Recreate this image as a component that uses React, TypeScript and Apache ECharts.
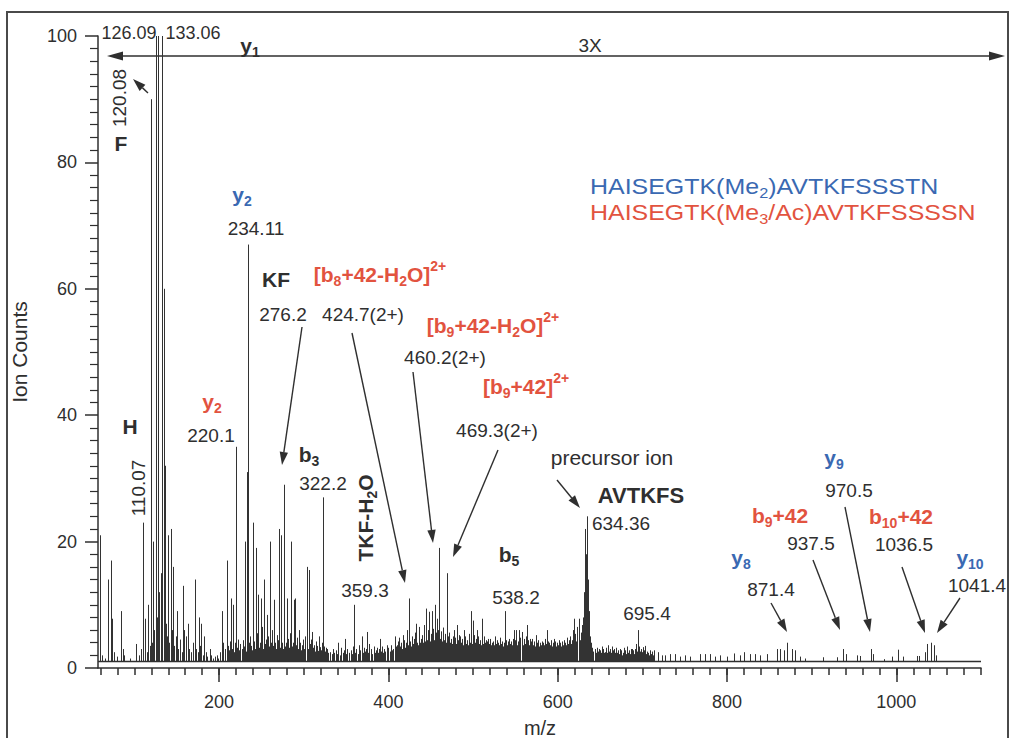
import React, { useEffect, useRef } from 'react';
import * as echarts from 'echarts';

// ---------- data (m/z, ion counts) ----------
const X_MIN = 57;
const X_MAX = 1100;
const BASE = 1.1;
const majorXTicks = [200, 400, 600, 800, 1000];
const yTicks = [0, 20, 40, 60, 80, 100];

const mainPeaks: [number, number][] = [
  [59.4, 21], [69, 14], [72, 17], [74, 7.8], [84, 9], [86, 3], [102, 3.8], [110.07, 23], [112, 7.8], [116, 10],
  [120.08, 90], [122, 20], [126.09, 100], [128.1, 100], [133.06, 100], [134.5, 60], [136, 32], [137.5, 7],
  [140, 21], [143, 22], [146, 16], [150, 9], [157, 13], [159, 6], [163, 7], [171, 14], [176, 8], [179, 7],
  [182, 5], [189, 3], [197, 2], [203, 9], [209, 17], [214, 11], [216, 10], [220.1, 35], [231, 20], [233, 31],
  [234.11, 67], [240.5, 23], [243.7, 19], [246.5, 11.6], [249.6, 11], [253.5, 14], [256.4, 8.4], [260, 20],
  [265, 10.8], [271, 22], [273, 21], [276.2, 29], [280, 11], [285, 20], [288.6, 10.8], [290, 11], [303.6, 16],
  [306.7, 15.5], [310, 5.7], [318.5, 5], [322.2, 27], [340, 4], [349, 4.6], [359.3, 10], [368.6, 5], [374.5, 5.7],
  [390, 4.6], [408, 5], [424.7, 11], [433, 7], [445, 9.4], [448.5, 8.9], [451, 9], [455, 10], [457, 7.8],
  [460.2, 19], [465, 5], [469.3, 15], [477, 6], [481, 6.8], [485, 5], [489, 6], [497, 9], [500, 7.5], [504.5, 6],
  [510.4, 7.8], [518, 4.6], [538.2, 9], [548, 6], [551, 6], [554, 6], [557.7, 5.7], [564, 6.8], [567.5, 4.6],
  [574.6, 5.2], [587, 6], [596, 4.6], [619.5, 7.8], [624.6, 7.8], [632.5, 22], [634.36, 24], [635.5, 14],
  [636.5, 9], [640, 3], [650, 2.8], [656, 2.5], [665, 2.8], [676, 2], [687.7, 3], [695.4, 6], [701, 3.3],
];

const highMassPeaks: [number, number][] = [
  [699.5, 2.5], [703.4, 3.5], [709.3, 2.8], [713.2, 2.8], [719, 2.5], [723, 2], [727, 2], [733, 2.2], [739, 2.2],
  [745, 1.8], [750.7, 2], [756.6, 1.8], [768.4, 2.2], [774.3, 2.2], [780.2, 2.2], [786, 1.8], [792, 2], [800, 1.8],
  [807.7, 2.3], [815.6, 2], [819.5, 2.5], [827.5, 2.2], [833.4, 2.2], [839.3, 2], [847.2, 2.2], [859, 3], [863, 3],
  [867, 2.8], [871.4, 4], [876.7, 3], [880.6, 2.8], [886.5, 1.8], [892.5, 1.5], [913, 1.7], [930, 1.7], [937.5, 3],
  [940, 2.2], [954, 2], [957, 1.9], [970.5, 3], [972, 2.2], [986, 1.4], [995, 1.8], [1002.5, 2.9], [1008, 1.8],
  [1024, 1.9], [1027, 1.9], [1034, 2.5], [1036.5, 3.8], [1041.4, 4], [1044.5, 3.6], [1047, 2],
];

const grassLow: [number, number][] = [
  [62, 2], [65, 1.5], [76, 2.5], [80, 1.8], [88, 2], [95, 1.5], [105, 2], [108, 3], [113, 4], [115, 2.5], [118, 3.5],
  [121, 4], [123, 6], [125, 5], [127, 8], [129, 12], [131, 10], [132, 15], [138, 5], [141, 4], [144, 6], [147, 3.5],
  [149, 5], [152, 3], [154, 4.5], [156, 2.5], [158, 3], [161, 5], [165, 3], [167, 2.5], [169, 4], [173, 3], [175, 2.5],
  [178, 3.5], [181, 2], [184, 2.5], [186, 1.8], [191, 2], [193, 1.5], [195, 1.8], [199, 1.5], [201, 2.5], [205, 4], [207, 3],
];

const grass210: [number, number][] = [
  [210, 3.5], [212, 2.8], [213, 4.2], [215, 3], [217, 3.6], [218, 2.5], [219, 4], [221, 3.2], [222, 4.5], [224, 2.8],
  [225, 3.8], [227, 3], [228, 4.4], [230, 3.4], [232, 2.6], [235, 4], [236, 3], [237, 5], [238, 3.5], [239, 2.8],
  [241, 4.2], [242, 3], [244, 3.6], [245, 5.5], [247, 3.2], [248, 4], [250, 3.4], [251, 6.5], [252, 3], [254, 3.8],
  [255, 4.5], [257, 3], [258, 5], [259, 3.4], [261, 4], [262, 3], [263, 6], [264, 3.5], [266, 4], [267, 3], [268, 5.2],
  [269, 3.6], [270, 4.4], [272, 3.2], [274, 4], [275, 3], [277, 5], [278, 3.4], [279, 4], [281, 3], [282, 4.6],
  [283, 3.2], [284, 5.5], [286, 3.4], [287, 4], [289, 3], [291, 3.6], [292, 4.8], [293, 3], [294, 6], [295, 3.4],
  [296, 4], [297, 2.8], [298, 3.6], [299, 4.5], [300, 3], [301, 5], [302, 3.2], [304, 4], [305, 3], [307, 3.8],
  [308, 2.8], [309, 4.5], [311, 3.2], [312, 3.6], [313, 2.6], [314, 4.2], [315, 3], [316, 3.5], [317, 2.7], [319, 3.3],
  [320, 2.8], [321, 4], [323, 3], [324, 3.4], [325, 2.6], [326, 3.2], [327, 2.5], [328, 3], [329, 2.4],
];

const grass330: [number, number][] = [
  [331, 2.5], [333, 2.2], [334, 3], [336, 2.4], [338, 2.8], [339, 2.2], [341, 2.6], [343, 2], [344, 3.2], [346, 2.4],
  [347, 2.8], [350, 2.2], [351, 3], [353, 2.4], [354, 2], [356, 2.8], [357, 2.2], [358, 3.4], [361, 2.4], [362, 3],
  [364, 2.2], [365, 3.6], [366, 2.5], [367, 2.8], [370, 2.4], [371, 3.2], [372, 2.6], [373, 3], [376, 2.4], [377, 3.8],
  [379, 2.6], [380, 3], [381, 2.2], [383, 3.4], [384, 2.4], [385, 2.8], [387, 3.2], [388, 2.4], [389, 3], [391, 2.6],
  [392, 3.4], [394, 2.4], [395, 3], [396, 2.6], [398, 3.6], [399, 2.8], [400, 3.2], [402, 2.6], [403, 3.6], [404, 2.8],
  [405, 3], [406, 2.6], [409, 3.4],
];

const grass410: [number, number][] = [
  [410, 3.6], [411, 4.2], [412, 3], [413, 4.8], [414, 3.4], [415, 4], [416, 3], [417, 5.2], [418, 3.6], [419, 4.4],
  [420, 3.2], [421, 4], [422, 6], [423, 3.6], [426, 4.2], [427, 3.4], [428, 5], [429, 3.8], [430, 4.6], [431, 3.4],
  [432, 5.6], [434, 4], [435, 3.6], [436, 6.5], [437, 4], [438, 4.6], [439, 3.6], [440, 5.2], [441, 4], [442, 6.8],
  [443, 4.2], [444, 5], [446, 4.4], [447, 6], [449, 4.2], [450, 5.4], [452, 4.6], [453, 6.2], [454, 4.4], [456, 5.6],
  [458, 4.6], [459, 6], [461, 4.6], [462, 5.8], [463, 4.2], [464, 6.4], [466, 4.4], [467, 5.4], [468, 4], [470, 5],
  [471, 4.2], [472, 5.6], [473, 4], [474, 4.6], [475, 3.8], [476, 5], [478, 4.2], [479, 4.8], [480, 3.8], [482, 4.4],
  [483, 3.6], [484, 5.2], [486, 4], [487, 4.6], [488, 3.6], [490, 4.2], [491, 5], [492, 3.8], [493, 4.4], [494, 3.6],
  [495, 5.4], [496, 4], [498, 4.8], [499, 3.8], [501, 5.2], [502, 4], [503, 4.6], [505, 4], [506, 5], [507, 3.8],
  [508, 4.4], [509, 3.6], [511, 4.6], [512, 3.8], [513, 5], [514, 4], [515, 4.4], [516, 3.6], [517, 4.2], [519, 3.8],
  [520, 4.6], [521, 3.6], [522, 4], [523, 3.4], [524, 4.2], [525, 3.6], [526, 5], [527, 3.8], [528, 4.4], [529, 3.4],
  [530, 4], [531, 3.6], [532, 4.8], [533, 3.8], [534, 4.2], [535, 3.4], [536, 4], [537, 3.6], [539, 4.4], [540, 3.6],
  [541, 4.2], [542, 3.4], [543, 4.6], [544, 3.8], [545, 4.2], [546, 3.6], [547, 4.6], [549, 3.8], [550, 4.4], [552, 3.6],
  [553, 4.2], [555, 4.8], [556, 3.8], [558, 4.2], [559, 3.6], [560, 4.6], [561, 3.8], [562, 5], [563, 4], [565, 4.4],
  [566, 3.6], [568, 4.2], [569, 3.8], [570, 4.6], [571, 3.6], [572, 4.2], [573, 3.4], [575, 4], [576, 3.6], [577, 4.4],
  [578, 3.4], [579, 4], [580, 3.6], [581, 4.2], [582, 3.4], [583, 4], [584, 3.6], [585, 4.6], [586, 3.8], [588, 4.2],
  [589, 3.4], [590, 4], [591, 3.6], [592, 4.4], [593, 3.4], [594, 4], [595, 3.6], [597, 4.2], [598, 3.4], [599, 4],
  [600, 3.6], [601, 4.4], [602, 3.4], [603, 4], [604, 3.4], [605, 4.2], [606, 3.6], [607, 4.4], [608, 3.4], [609, 4],
  [610, 3.6], [611, 4.8], [612, 3.8], [613, 4.4], [614, 3.6], [615, 5], [616, 3.8], [617, 4.4], [618, 6], [620, 4.4],
  [621, 5.4], [622, 4.2], [623, 6.5], [625, 5], [626, 4.4], [627, 5.6], [628, 4.6], [629, 6.8], [630, 8], [631, 12],
  [633.5, 18], [637, 8], [638, 5], [639, 4], [641, 3.2],
];

const grass640: [number, number][] = [
  [642, 2.6], [644, 3], [645, 2.4], [647, 3.2], [648, 2.6], [649, 3], [651, 2.4], [652, 3.4], [653, 2.6], [654, 3],
  [655, 2.4], [657, 3.2], [658, 2.4], [659, 2.8], [660, 3.6], [661, 2.6], [662, 3], [663, 2.4], [664, 3.4], [666, 2.6],
  [667, 3], [668, 2.4], [669, 3.2], [670, 2.4], [671, 2.8], [672, 2.2], [673, 3], [674, 2.4], [675, 2.8], [677, 2.4],
  [678, 3.2], [679, 2.4], [680, 2.8], [681, 2.2], [682, 3.4], [683, 2.4], [684, 2.8], [685, 2.2], [686, 3], [688, 2.4],
  [689, 2.8], [690, 2.2], [691, 3], [692, 2.4], [693, 3.8], [694, 2.6], [696, 3.4], [697, 2.6], [698, 3], [700, 2.4],
  [702, 2.8], [704, 2.2], [705, 2.6], [706, 2.2], [707, 2.4], [708, 2], [710, 2.2], [711, 2.6], [712, 2],
];

// ---------- styling ----------
const FONT = '"Liberation Sans", Arial, Helvetica, sans-serif';
const INK = '#2f2f2f';
const RED = '#e2533f';
const BLUE = '#3a69b2';
const NUM = 19;
const BOLD = 21;

// rich-text styles: m = main, s = subscript, p = superscript.
function styleSet(color: string, size: number, weight: string, L: number) {
  const sub = Math.round(size * 0.66);
  const base = { fill: color, color, fontFamily: FONT, fontWeight: weight };
  const subH = Math.max(2, L - 0.66 * size);
  const supH = Math.max(2, L - 0.76 * size);
  return {
    m: { ...base, fontSize: size, lineHeight: L, verticalAlign: 'middle' },
    s: { ...base, fontSize: sub, height: subH, lineHeight: subH, verticalAlign: 'bottom' },
    p: { ...base, fontSize: sub, height: supH, lineHeight: supH, verticalAlign: 'top' },
  };
}

function richSet(color: string, size: number, weight: string, L: number) {
  const main = styleSet(color, size, weight, L);
  const b = styleSet(BLUE, size, weight, L);
  const r = styleSet(RED, size, weight, L);
  return { ...main, mb: b.m, sb: b.s, mr: r.m, sr: r.s };
}

type Ann = {
  x: number; y: number; t: string; c?: string; size?: number; w?: string;
  rot?: number; align?: string; lh?: number; sx?: number;
};

const annotations: Ann[] = [
  { x: 129, y: 33, t: '{m|126.09}', size: 18, w: 'normal' },
  { x: 193, y: 33, t: '{m|133.06}', size: 18, w: 'normal' },
  { x: 250, y: 45, t: '{m|y}{s|1}', size: BOLD },
  { x: 590, y: 45, t: '{m|3X}', size: NUM, w: 'normal' },
  { x: 119, y: 98, t: '{m|120.08}', size: NUM, w: 'normal', rot: Math.PI / 2 },
  { x: 121, y: 143, t: '{m|F}', size: BOLD },
  { x: 130, y: 426, t: '{m|H}', size: BOLD },
  { x: 138, y: 488, t: '{m|110.07}', size: NUM, w: 'normal', rot: Math.PI / 2 },
  { x: 212, y: 401, t: '{m|y}{s|2}', size: BOLD, c: RED },
  { x: 211, y: 435, t: '{m|220.1}', size: NUM, w: 'normal' },
  { x: 242, y: 194, t: '{m|y}{s|2}', size: BOLD, c: BLUE },
  { x: 256, y: 228, t: '{m|234.11}', size: NUM, w: 'normal' },
  { x: 276, y: 279, t: '{m|KF}', size: BOLD },
  { x: 283, y: 314, t: '{m|276.2}', size: NUM, w: 'normal' },
  { x: 380, y: 274, t: '{m|[b}{s|8}{m|+42-H}{s|2}{m|O]}{p|2+}', size: BOLD, c: RED },
  { x: 363, y: 314, t: '{m|424.7(2+)}', size: NUM, w: 'normal' },
  { x: 493, y: 325, t: '{m|[b}{s|9}{m|+42-H}{s|2}{m|O]}{p|2+}', size: BOLD, c: RED },
  { x: 445, y: 357, t: '{m|460.2(2+)}', size: NUM, w: 'normal' },
  { x: 526, y: 386, t: '{m|[b}{s|9}{m|+42]}{p|2+}', size: BOLD, c: RED },
  { x: 497, y: 430, t: '{m|469.3(2+)}', size: NUM, w: 'normal' },
  { x: 309, y: 454, t: '{m|b}{s|3}', size: BOLD },
  { x: 323, y: 483, t: '{m|322.2}', size: NUM, w: 'normal' },
  { x: 365, y: 518, t: '{m|TKF-H}{s|2}{m|O}', size: BOLD, rot: Math.PI / 2 },
  { x: 365, y: 590, t: '{m|359.3}', size: NUM, w: 'normal' },
  { x: 509, y: 554, t: '{m|b}{s|5}', size: BOLD },
  { x: 516, y: 597, t: '{m|538.2}', size: NUM, w: 'normal' },
  { x: 612, y: 457, t: '{m|precursor ion}', size: 21, w: 'normal' },
  { x: 641, y: 495, t: '{m|AVTKFS}', size: 22 },
  { x: 621, y: 523, t: '{m|634.36}', size: NUM, w: 'normal' },
  { x: 647, y: 613, t: '{m|695.4}', size: NUM, w: 'normal' },
  { x: 741, y: 557, t: '{m|y}{s|8}', size: BOLD, c: BLUE },
  { x: 771, y: 589, t: '{m|871.4}', size: NUM, w: 'normal' },
  { x: 780, y: 515, t: '{m|b}{s|9}{m|+42}', size: BOLD, c: RED },
  { x: 811, y: 543, t: '{m|937.5}', size: NUM, w: 'normal' },
  { x: 834, y: 457, t: '{m|y}{s|9}', size: BOLD, c: BLUE },
  { x: 849, y: 490, t: '{m|970.5}', size: NUM, w: 'normal' },
  { x: 901, y: 516, t: '{m|b}{s|10}{m|+42}', size: BOLD, c: RED },
  { x: 904, y: 544, t: '{m|1036.5}', size: NUM, w: 'normal' },
  { x: 970, y: 557, t: '{m|y}{s|10}', size: BOLD, c: BLUE },
  { x: 977, y: 585, t: '{m|1041.4}', size: NUM, w: 'normal' },
  {
    x: 590, y: 198.5,
    t: '{mb|HAISEGTK(Me}{sb|2}{mb|)AVTKFSSSTN}\n{mr|HAISEGTK(Me}{sr|3}{mr|/Ac)AVTKFSSSSN}',
    size: 23, w: 'normal', c: BLUE, align: 'left', lh: 26, sx: 1.085,
  },
];

const arrows: [number, number, number, number][] = [
  [148, 93, 133, 79],
  [302, 327, 282, 465],
  [352, 333, 405, 583],
  [413, 372, 433, 543],
  [498, 450, 453, 557],
  [557, 480, 580, 508],
  [771, 603, 787, 632],
  [813, 560, 840, 630],
  [845, 507, 870, 632],
  [902, 567, 925, 633],
  [960, 598, 937, 633],
];

function arrowHead(x1: number, y1: number, x2: number, y2: number, len = 13, half = 4.2) {
  const dx = x2 - x1, dy = y2 - y1;
  const d = Math.hypot(dx, dy);
  const ux = dx / d, uy = dy / d;
  const bx = x2 - ux * len, by = y2 - uy * len;
  return {
    base: [bx, by],
    poly: {
      type: 'polygon',
      silent: true,
      shape: { points: [[x2, y2], [bx - uy * half, by + ux * half], [bx + uy * half, by - ux * half]] },
      style: { fill: INK },
    },
  };
}

function buildGraphic() {
  const els: any[] = [];
  els.push({
    type: 'rect', silent: true,
    shape: { x: 7, y: 12, width: 1001, height: 800 },
    style: { fill: 'none', stroke: '#4a4a4a', lineWidth: 2 },
  });
  const L = arrowHead(1005, 56, 107, 56, 16, 4.5);
  const R = arrowHead(107, 56, 1005, 56, 16, 4.5);
  els.push({ type: 'line', silent: true, shape: { x1: L.base[0], y1: 56, x2: R.base[0], y2: 56 }, style: { stroke: INK, lineWidth: 1.5 } });
  els.push(L.poly, R.poly);
  arrows.forEach(([x1, y1, x2, y2]) => {
    const h = arrowHead(x1, y1, x2, y2);
    els.push({ type: 'line', silent: true, shape: { x1, y1, x2: h.base[0], y2: h.base[1] }, style: { stroke: INK, lineWidth: 1.4 } });
    els.push(h.poly);
  });
  annotations.forEach((a) => {
    const color = a.c || INK;
    const size = a.size || NUM;
    const w = a.w || 'bold';
    const lh = a.lh || size + 2;
    els.push({
      type: 'text', silent: true,
      x: a.x, y: a.y, rotation: a.rot || 0, scaleX: a.sx || 1,
      style: {
        text: a.t,
        rich: richSet(color, size, w, lh),
        fontFamily: FONT, fontSize: size, fontWeight: w, fill: color,
        align: a.align || 'center', textAlign: a.align || 'center',
        verticalAlign: 'middle', textVerticalAlign: 'middle',
      },
    });
  });
  els.push({
    type: 'text', silent: true, x: 540, y: 728,
    style: { text: 'm/z', fontFamily: FONT, fontSize: 20, fill: INK, align: 'center', textAlign: 'center', verticalAlign: 'middle', textVerticalAlign: 'middle' },
  });
  return els;
}

export default function App() {
  const ref = useRef<HTMLDivElement>(null);
  useEffect(() => {
    if (!ref.current) return;
    const chart = echarts.init(ref.current, null, { renderer: 'svg' });
    const minorXTicks: number[] = [];
    for (let v = 60; v <= X_MAX; v += 20) minorXTicks.push(v);
    const allPeaks = [...grassLow, ...grass210, ...grass330, ...grass410, ...grass640, ...mainPeaks, ...highMassPeaks];
    const axisLineStyle = { color: INK, width: 1.5 };
    chart.setOption({
      animation: false,
      backgroundColor: '#ffffff',
      grid: { left: 98, right: 34, top: 36, bottom: 70, containLabel: false },
      xAxis: [
        {
          type: 'value', min: X_MIN, max: X_MAX,
          axisLine: { lineStyle: axisLineStyle },
          axisTick: { customValues: majorXTicks, length: 14, lineStyle: axisLineStyle },
          axisLabel: { customValues: majorXTicks, margin: 25, fontSize: 18, color: INK, fontFamily: FONT, formatter: (v: number) => String(v) },
          splitLine: { show: false },
        },
        {
          type: 'value', min: X_MIN, max: X_MAX, position: 'bottom',
          axisLine: { show: false },
          axisTick: { customValues: minorXTicks, length: 7, lineStyle: axisLineStyle },
          axisLabel: { show: false },
          splitLine: { show: false },
        },
      ],
      yAxis: {
        type: 'value', min: 0, max: 100, interval: 20,
        name: 'Ion Counts', nameLocation: 'middle', nameGap: 68,
        nameTextStyle: { fontSize: 21, color: INK, fontFamily: FONT },
        axisLine: { show: true, lineStyle: axisLineStyle },
        axisTick: { show: true, length: 13, lineStyle: axisLineStyle },
        minorTick: { show: true, splitNumber: 10, length: 8, lineStyle: { color: INK, width: 1.2 } },
        axisLabel: { margin: 21, fontSize: 18, color: INK, fontFamily: FONT, customValues: yTicks },
        splitLine: { show: false },
      },
      series: [
        {
          type: 'custom',
          xAxisIndex: 0,
          clip: true,
          data: allPeaks,
          renderItem: (params: any, api: any) => {
            const top = api.coord([api.value(0), api.value(1)]);
            const bot = api.coord([api.value(0), BASE]);
            const x = Math.round(top[0]) + 0.5;
            return {
              type: 'line',
              shape: { x1: x, y1: top[1], x2: x, y2: bot[1] },
              style: { stroke: '#333333', lineWidth: 1 },
            };
          },
          markLine: {
            silent: true, symbol: 'none', label: { show: false },
            lineStyle: { color: INK, width: 1.3, type: 'solid' },
            data: [{ yAxis: BASE }],
          },
        },
      ],
      graphic: buildGraphic(),
    });
    return () => chart.dispose();
  }, []);
  return <div ref={ref} style={{ width: 1015, height: 738, position: 'absolute', left: 0, top: 0 }} />;
}
